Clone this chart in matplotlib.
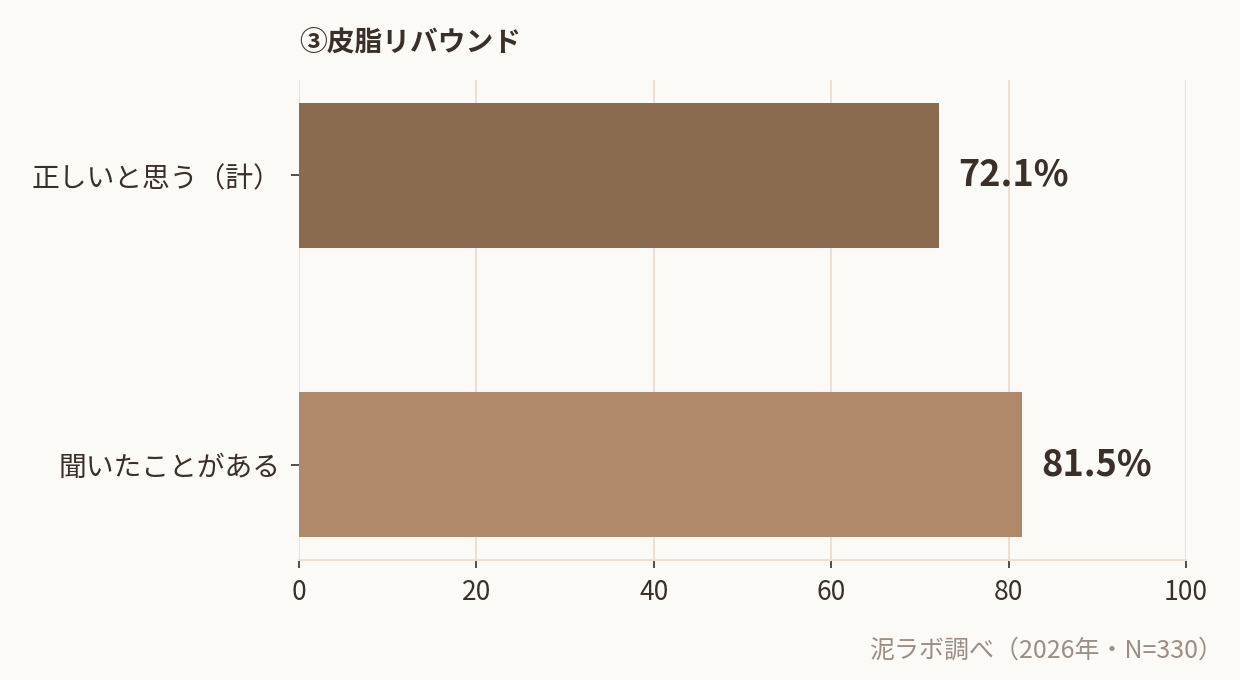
import matplotlib
matplotlib.use("Agg")
import matplotlib.pyplot as plt

plt.rcParams['font.family'] = ['Noto Sans CJK JP', 'DejaVu Sans']

categories = ["正しいと思う（計）", "聞いたことがある"]
values = [72.1, 81.5]
bar_colors = ["#8a6b4f", "#b0886a"]
xticks = [0, 20, 40, 60, 80, 100]

bg = "#fcfaf7"
text_col = "#3a302a"
grid_col = "#ebe0d6"

fig = plt.figure(figsize=(12.4, 6.8), dpi=100, facecolor=bg)
ax = fig.add_axes([0.2411, 0.1765, 0.7154, 0.7059])
ax.set_facecolor(bg)

ypos = list(range(len(categories)))
ax.barh(ypos, values, height=0.5, color=bar_colors, zorder=2)

for y, v in zip(ypos, values):
    ax.text(v + 2.2, y, f"{v:.1f}%", va="center", ha="left",
            fontsize=26, fontweight="bold", color=text_col, zorder=3)

ax.set_xlim(0, 100)
ax.set_ylim(1.33, -0.33)
ax.set_xticks(xticks)
ax.set_yticks(ypos)
ax.set_yticklabels(categories)

ax.grid(axis="x", color=grid_col, linewidth=1.5, zorder=0)
ax.set_axisbelow(True)
for s in ["top", "right", "left"]:
    ax.spines[s].set_visible(False)
ax.spines["bottom"].set_color(grid_col)
ax.spines["bottom"].set_linewidth(1.5)

ax.tick_params(axis="both", colors=text_col, labelsize=19, length=6, width=1.2)
ax.tick_params(axis="y", pad=7, labelsize=20)
ax.tick_params(axis="x", pad=8)

fig.text(0.2411, 0.938, "③皮脂リバウンド", fontsize=20, fontweight="bold",
         color=text_col, ha="left", va="center")
fig.text(0.9865, 0.043, "泥ラボ調べ（2026年・N=330）", fontsize=18,
         color="#9a8e85", ha="right", va="center")

fig.savefig("out.png", dpi=100, facecolor=bg)
